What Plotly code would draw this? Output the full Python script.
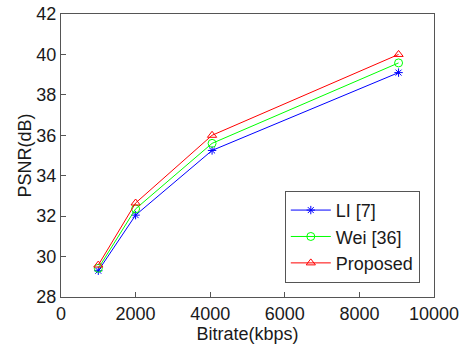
import plotly.graph_objects as go

bitrate = [1000, 2000, 4050, 9050]
li = [29.3, 32.05, 35.25, 39.1]
wei = [29.42, 32.36, 35.6, 39.58]
proposed = [29.58, 32.65, 36.0, 40.0]

x_ticks = [0, 2000, 4000, 6000, 8000, 10000]
y_ticks = [28, 30, 32, 34, 36, 38, 40, 42]

fig = go.Figure()
fig.add_trace(go.Scatter(x=bitrate, y=li, name="LI [7]", mode="lines+markers",
                         line=dict(color="#0000ff", width=1),
                         marker=dict(symbol="asterisk-open", size=7, color="#0000ff",
                                     line=dict(color="#0000ff", width=1))))
fig.add_trace(go.Scatter(x=bitrate, y=wei, name="Wei [36]", mode="lines+markers",
                         line=dict(color="#00ff00", width=1),
                         marker=dict(symbol="circle-open", size=8, color="#00ff00",
                                     line=dict(color="#00ff00", width=1))))
fig.add_trace(go.Scatter(x=bitrate, y=proposed, name="Proposed", mode="lines+markers",
                         line=dict(color="#ff0000", width=1),
                         marker=dict(symbol="triangle-up-open", size=8, color="#ff0000",
                                     line=dict(color="#ff0000", width=1))))

axis_common = dict(showgrid=False, zeroline=False, showline=True, mirror=True,
                   linecolor="#555555", linewidth=1, ticks="inside", ticklen=5,
                   tickcolor="#555555", tickfont=dict(size=18, color="#1a1a1a"),
                   automargin=False)

fig.update_layout(
    width=466, height=344,
    margin=dict(l=61, r=32, t=14, b=47),
    paper_bgcolor="white", plot_bgcolor="white",
    font=dict(family="Liberation Sans, Arial, sans-serif", size=18, color="#1a1a1a"),
    xaxis=dict(range=[0, 10000], tickvals=x_ticks, ticktext=[str(v) for v in x_ticks],
               title=dict(text="Bitrate(kbps)", standoff=0, font=dict(size=18)), **axis_common),
    yaxis=dict(range=[28, 42], tickvals=y_ticks, ticktext=[str(v) for v in y_ticks],
               title=dict(text="PSNR(dB)", standoff=0, font=dict(size=18)), **axis_common),
    legend=dict(x=0.6, y=0.375, xanchor="left", yanchor="top",
                bgcolor="white", bordercolor="#555555", borderwidth=1,
                font=dict(size=18, color="#1a1a1a"), tracegroupgap=0,
                itemwidth=40),
    showlegend=True,
)

fig.write_html("out.html")
